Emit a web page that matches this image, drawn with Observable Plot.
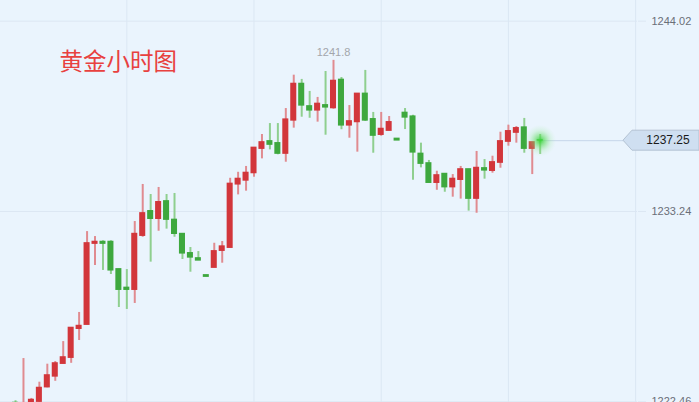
<!DOCTYPE html>
<html>
<head>
<meta charset="utf-8">
<script src="https://cdn.jsdelivr.net/npm/d3@7"></script>
<script src="https://cdn.jsdelivr.net/npm/@observablehq/plot@0.6"></script>
<style>
  html, body { margin: 0; padding: 0; background: #eaf4fd; overflow: hidden; }
  #chart svg { display: block; overflow: hidden; }
</style>
</head>
<body>
<div id="chart"></div>
<script>
const title = "黄金小时图";

const open = [
  1222.40, 1221.50, 1222.00, 1222.46, 1223.28, 1223.89, 1224.61, 1224.95, 1226.59, 1226.82,
  1231.41, 1231.52, 1231.52, 1229.97, 1228.92, 1228.80, 1231.86, 1233.26, 1232.82, 1233.82,
  1232.77, 1231.97, 1230.88, 1230.59, 1229.63, 1230.05, 1231.01, 1231.18, 1234.77, 1234.99,
  1235.41, 1236.79, 1237.22, 1237.11, 1236.51, 1238.39, 1240.47, 1239.20, 1238.96, 1239.26,
  1239.09, 1240.70, 1238.11, 1238.30, 1239.91, 1238.47, 1237.58, 1237.81, 1237.36, 1238.83,
  1238.62, 1236.51, 1235.97, 1234.86, 1235.37, 1234.61, 1235.03, 1235.63, 1233.96, 1235.69,
  1235.54, 1236.00, 1237.19, 1237.70, 1238.00, 1236.79, 1237.28
];
const close = [
  1222.00, 1222.20, 1222.57, 1223.25, 1223.96, 1224.64, 1224.98, 1226.65, 1226.76, 1231.44,
  1231.52, 1231.41, 1229.90, 1228.80, 1228.80, 1231.97, 1233.14, 1232.82, 1233.77, 1232.77,
  1231.97, 1230.86, 1230.63, 1230.46, 1229.54, 1230.99, 1231.26, 1234.81, 1235.09, 1235.43,
  1236.85, 1237.16, 1237.02, 1236.51, 1238.45, 1240.47, 1239.24, 1238.96, 1239.34, 1239.13,
  1240.64, 1238.11, 1238.35, 1239.91, 1238.39, 1237.53, 1237.92, 1238.30, 1237.26, 1238.56,
  1236.58, 1235.94, 1234.86, 1235.29, 1234.61, 1235.09, 1235.63, 1233.96, 1235.71, 1235.56,
  1236.03, 1237.22, 1237.79, 1237.96, 1236.79, 1237.16, 1237.25
];
const high = [
  1222.52, 1224.91, 1222.65, 1223.57, 1224.59, 1224.74, 1225.87, 1226.65, 1227.52, 1232.10,
  1231.82, 1231.58, 1231.58, 1229.97, 1229.95, 1232.67, 1234.77, 1234.20, 1234.60, 1234.20,
  1234.26, 1231.97, 1231.20, 1230.97, 1229.63, 1231.44, 1231.54, 1235.12, 1235.46, 1235.79,
  1236.85, 1237.60, 1238.22, 1238.22, 1239.07, 1240.96, 1240.72, 1240.04, 1239.70, 1241.17,
  1241.80, 1240.83, 1239.24, 1239.91, 1241.23, 1238.85, 1238.85, 1238.62, 1237.36, 1239.07,
  1238.69, 1237.11, 1236.13, 1235.52, 1235.37, 1235.33, 1235.79, 1235.63, 1236.64, 1236.18,
  1236.37, 1237.73, 1238.13, 1238.05, 1238.51, 1237.16, 1237.60
];
const low = [
  1221.80, 1221.30, 1221.90, 1222.40, 1223.25, 1223.62, 1224.61, 1224.64, 1225.93, 1226.82,
  1230.18, 1229.90, 1229.67, 1227.80, 1227.69, 1228.03, 1231.78, 1230.37, 1232.12, 1232.24,
  1231.78, 1230.52, 1229.80, 1230.46, 1229.54, 1230.05, 1230.31, 1231.18, 1234.18, 1234.39,
  1235.18, 1236.22, 1236.73, 1236.45, 1236.03, 1237.96, 1238.58, 1238.52, 1238.30, 1237.56,
  1239.03, 1237.87, 1237.39, 1236.60, 1238.34, 1236.54, 1237.50, 1237.81, 1237.26, 1237.88,
  1235.01, 1235.71, 1234.86, 1234.44, 1234.33, 1234.05, 1233.94, 1233.26, 1233.14, 1235.07,
  1235.41, 1235.69, 1236.94, 1237.11, 1236.54, 1235.33, 1236.47
];
const yTicks = [1244.02, 1233.24, 1222.46];
const xGridIdx = [14, 30, 46, 62, 78];

const data = open.map((o, i) => ({
  i, o, c: close[i], h: high[i], l: low[i], up: close[i] >= open[i]
}));

const RED = "#d2363b", GREEN = "#3ea83e";
const RED_W = "#e08b90", GREEN_W = "#8fcf8f";
const GRID = "#dbe7f3";

const last = data[data.length - 1];
const maxC = data.reduce((a, b) => (b.h > a.h ? b : a));
const xDomain = [-1.89, 78.24];

const chart = Plot.plot({
  width: 699,
  height: 402,
  marginLeft: 0,
  marginTop: 0,
  marginBottom: 0,
  marginRight: 62,
  style: { background: "#eaf4fd", overflow: "hidden" },
  x: { domain: xDomain, axis: null },
  y: { domain: [1222.42, 1245.19], axis: null },
  marks: [
    Plot.gridY(yTicks, { stroke: GRID, strokeOpacity: 1 }),
    Plot.gridX(xGridIdx, { stroke: GRID, strokeOpacity: 1 }),
    Plot.axisY({
      anchor: "right", ticks: yTicks, tickFormat: d => d.toFixed(2),
      tickSize: 8, tickPadding: 6, stroke: GRID, strokeOpacity: 1,
      fill: "#6a6f78", fontSize: 11, fontFamily: "Liberation Sans, Arial, sans-serif", label: null
    }),
    Plot.ruleY([last], {
      y: "c", x1: "i", x2: () => xDomain[1], stroke: "#c5d6ea", strokeWidth: 1
    }),
    Plot.ruleX(data, {
      x: "i", y1: "l", y2: "h", strokeWidth: 2,
      stroke: d => (d.up ? RED_W : GREEN_W)
    }),
    Plot.rect(data, {
      x1: d => d.i - 0.38, x2: d => d.i + 0.38,
      y1: d => Math.min(d.o, d.c), y2: d => Math.max(d.o, d.c),
      insetTop: -0.6, insetBottom: -0.6,
      fill: d => (d.up ? RED : GREEN)
    }),
    Plot.dot([last], { x: "i", y: "c", r: 16, fill: "url(#glow)", stroke: "none" }),
    Plot.text([maxC], {
      x: "i", y: "h", text: d => String(d.h.toFixed(1)),
      dy: -8, fill: "#a3a6ab", fontSize: 11, fontFamily: "Liberation Sans, Arial, sans-serif"
    }),
    Plot.text([title], {
      frameAnchor: "top-left", dx: 59, dy: 53, textAnchor: "start",
      fill: "#e8413f", fontSize: 23.5, fontFamily: "Noto Sans CJK SC, sans-serif"
    })
  ]
});

// glow gradient
const svg = d3.select(chart);
const defs = svg.insert("defs", ":first-child");
const g = defs.append("radialGradient").attr("id", "glow");
g.append("stop").attr("offset", "0%").attr("stop-color", "#39d639").attr("stop-opacity", 0.95);
g.append("stop").attr("offset", "30%").attr("stop-color", "#5fdc5f").attr("stop-opacity", 0.6);
g.append("stop").attr("offset", "65%").attr("stop-color", "#8fe68f").attr("stop-opacity", 0.22);
g.append("stop").attr("offset", "100%").attr("stop-color", "#b8efb8").attr("stop-opacity", 0);

// current price label
const ys = chart.scale("y"), xs = chart.scale("x");
const py = ys.apply(last.c);
const px = xs.apply(xDomain[1]);
const tip = px - 14, bx = px - 5;
svg.append("polygon")
  .attr("points", `${tip},${py} ${bx},${py - 10} 699,${py - 10} 699,${py + 10} ${bx},${py + 10}`)
  .attr("fill", "#cfdff1").attr("stroke", "#b4c3d3").attr("stroke-width", 1);
svg.append("text")
  .attr("x", px + 31).attr("y", py).attr("dy", "0.36em")
  .attr("text-anchor", "middle").attr("font-size", 12)
  .attr("font-family", "Liberation Sans, Arial, sans-serif").attr("fill", "#1a1a1a")
  .text(last.c.toFixed(2));

document.getElementById("chart").appendChild(chart);
</script>
</body>
</html>
